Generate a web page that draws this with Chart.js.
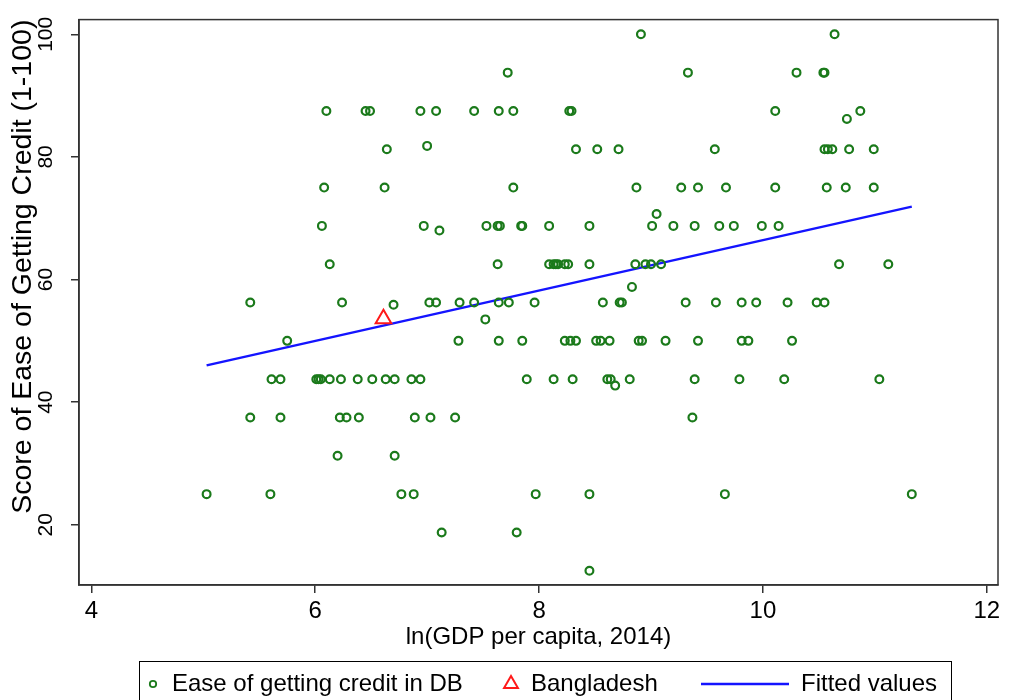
<!DOCTYPE html>
<html>
<head>
<meta charset="utf-8">
<title>Ease of getting credit vs ln(GDP per capita)</title>
<script src="https://cdn.jsdelivr.net/npm/chart.js@4.4.1/dist/chart.umd.min.js"></script>
<style>
    html, body { margin: 0; padding: 0; background: #fff; }
    #wrap { position: relative; width: 1009px; height: 700px; }
</style>
</head>
<body>
<div id="wrap"><canvas id="credit-chart"></canvas></div>
<script>
    "use strict";

    // Score levels (y) and the ln(GDP per capita) of the countries at each level (x)
    const scoreLevels = [100, 93.75, 87.5, 86.2, 81.8, 81.25, 75, 70.7, 68.75, 68.0,
        62.5, 58.8, 56.25, 55.9, 53.5, 50, 43.75, 42.7, 37.5, 31.25, 25, 18.75, 12.5];
    const gdpByScore = [
        [8.91, 10.64],
        [7.72, 9.33, 10.30, 10.54, 10.55],
        [6.10, 6.45, 6.49, 6.94, 7.08, 7.42, 7.64, 7.77, 8.27, 8.29, 10.11, 10.87],
        [10.75],
        [7.00],
        [6.64, 8.33, 8.52, 8.71, 9.57, 10.55, 10.58, 10.62, 10.77, 10.99],
        [6.08, 6.62, 7.77, 8.87, 9.27, 9.42, 9.67, 10.11, 10.57, 10.74, 10.99],
        [9.05],
        [6.06, 6.97, 7.53, 7.63, 7.65, 7.84, 7.85, 8.09, 8.45, 9.01, 9.20, 9.39, 9.61, 9.74, 9.99, 10.14],
        [7.11],
        [6.13, 7.63, 8.09, 8.13, 8.15, 8.17, 8.23, 8.26, 8.45, 8.86, 8.95, 9.00, 9.09, 10.68, 11.12],
        [8.83],
        [5.42, 6.24, 7.02, 7.08, 7.29, 7.42, 7.64, 7.73, 7.96, 8.57, 8.72, 8.74, 9.31, 9.58, 9.81, 9.94, 10.22, 10.48, 10.55],
        [6.70],
        [7.52],
        [5.75, 7.28, 7.64, 7.85, 8.23, 8.28, 8.33, 8.51, 8.55, 8.63, 8.89, 8.92, 9.13, 9.42, 9.81, 9.87, 10.26],
        [5.61, 5.69, 6.01, 6.03, 6.05, 6.13, 6.23, 6.38, 6.51, 6.63, 6.71, 6.86, 6.94, 7.89, 8.13, 8.30, 8.61, 8.64, 8.81, 9.39, 9.79, 10.19, 11.04],
        [8.68],
        [5.42, 5.69, 6.22, 6.28, 6.39, 6.89, 7.03, 7.25, 9.37],
        [6.20, 6.71],
        [5.03, 5.60, 6.77, 6.88, 7.97, 8.45, 9.66, 11.33],
        [7.13, 7.80],
        [8.45]
    ];

    // Bangladesh
    const bangladeshX = [6.61];
    const bangladeshY = [53.6];

    // Fitted values (linear fit, drawn between min and max x)
    const fitX = [5.03, 11.33];
    const fitY = [46.0, 71.9];

    // Axis ticks
    const xTicks = [4, 6, 8, 10, 12];
    const yTicks = [20, 40, 60, 80, 100];

    const green = "#1b7a1b";
    const red = "#ff1a1a";
    const blue = "#1414ff";
    const axisColor = "#333333";
    const fontFamily = "'Liberation Sans', Arial, sans-serif";

    const creditPoints = scoreLevels.flatMap(function (s, i) {
        return gdpByScore[i].map(function (x) { return { x: x, y: s }; });
    });
    const bangladeshPoints = bangladeshX.map(function (x, i) { return { x: x, y: bangladeshY[i] }; });
    const fitPoints = fitX.map(function (x, i) { return { x: x, y: fitY[i] }; });

    // Full frame around the plot region
    const frame = {
        id: "frame",
        beforeDatasetsDraw: function (chart) {
            const a = chart.chartArea;
            const c = chart.ctx;
            c.save();
            c.strokeStyle = axisColor;
            c.lineWidth = 1.5;
            c.strokeRect(a.left, a.top, a.right - a.left, a.bottom - a.top);
            c.restore();
        }
    };

    // Stata-style legend box below the plot
    const boxLegend = {
        id: "boxLegend",
        afterDraw: function (chart) {
            const c = chart.ctx;
            const y = 684;
            c.save();
            c.strokeStyle = "#000";
            c.lineWidth = 1;
            c.strokeRect(139.5, 661.5, 812, 60);

            c.font = "24px " + fontFamily;
            c.fillStyle = "#000";
            c.textBaseline = "middle";
            c.textAlign = "left";

            // circle
            c.strokeStyle = green;
            c.lineWidth = 1.8;
            c.beginPath();
            c.arc(153, y, 3.2, 0, Math.PI * 2);
            c.stroke();
            c.fillText(chart.data.datasets[0].label, 172, y);

            // triangle
            c.strokeStyle = red;
            c.lineWidth = 2;
            const r = 8;
            c.beginPath();
            c.moveTo(511, y - r);
            c.lineTo(511 + r * 0.866, y + r / 2);
            c.lineTo(511 - r * 0.866, y + r / 2);
            c.closePath();
            c.stroke();
            c.fillText(chart.data.datasets[1].label, 531, y);

            // line
            c.strokeStyle = blue;
            c.lineWidth = 2.5;
            c.beginPath();
            c.moveTo(701, y);
            c.lineTo(789, y);
            c.stroke();
            c.fillText(chart.data.datasets[2].label, 801, y);
            c.restore();
        }
    };

    var ctx = document.getElementById("credit-chart").getContext("2d");
    var creditChart = new Chart(ctx, {
        type: "scatter",
        data: {
            datasets: [{
                label: "Ease of getting credit in DB",
                data: creditPoints,
                pointStyle: "circle",
                pointRadius: 3.9,
                borderWidth: 2.2,
                borderColor: green,
                backgroundColor: "rgba(0,0,0,0)"
            },
            {
                label: "Bangladesh",
                data: bangladeshPoints,
                pointStyle: "triangle",
                pointRadius: 9,
                borderWidth: 2,
                borderColor: red,
                backgroundColor: "rgba(0,0,0,0)"
            },
            {
                type: "line",
                label: "Fitted values",
                data: fitPoints,
                borderColor: blue,
                borderWidth: 2.5,
                pointRadius: 0,
                fill: false
            }]
        },
        options: {
            responsive: true,
            maintainAspectRatio: false,
            animation: false,
            layout: { padding: { top: 16, right: 4, left: 0, bottom: 0 } },
            plugins: {
                legend: { display: false },
                tooltip: { enabled: false }
            },
            scales: {
                x: {
                    type: "linear",
                    min: 3.89,
                    max: 12.10,
                    afterBuildTicks: function (axis) {
                        axis.ticks = xTicks.map(function (v) { return { value: v }; });
                    },
                    afterFit: function (axis) { axis.height = 115; },
                    grid: { drawOnChartArea: false, drawTicks: true, tickLength: 8, color: axisColor, lineWidth: 1.5 },
                    border: { display: true, color: axisColor, width: 1.5 },
                    ticks: { color: "#000", padding: 4, font: { family: fontFamily, size: 24 } },
                    title: {
                        display: true,
                        text: "ln(GDP per capita, 2014)",
                        color: "#000",
                        font: { family: fontFamily, size: 24 },
                        padding: { top: 0, bottom: 48 }
                    }
                },
                y: {
                    type: "linear",
                    min: 10.18,
                    max: 102.4,
                    afterBuildTicks: function (axis) {
                        axis.ticks = yTicks.map(function (v) { return { value: v }; });
                    },
                    afterFit: function (axis) { axis.width = 79; },
                    grid: { drawOnChartArea: false, drawTicks: true, tickLength: 8, color: axisColor, lineWidth: 1.5 },
                    border: { display: true, color: axisColor, width: 1.5 },
                    ticks: {
                        color: "#000",
                        minRotation: 90,
                        maxRotation: 90,
                        crossAlign: "center",
                        padding: 7,
                        font: { family: fontFamily, size: 21 }
                    },
                    title: {
                        display: true,
                        align: "end",
                        text: "Score of Ease of Getting Credit (1-100)",
                        color: "#000",
                        font: { family: fontFamily, size: 28.5 },
                        padding: { top: 6, bottom: 0 }
                    }
                }
            }
        },
        plugins: [frame, boxLegend]
    });
</script>
</body>
</html>
